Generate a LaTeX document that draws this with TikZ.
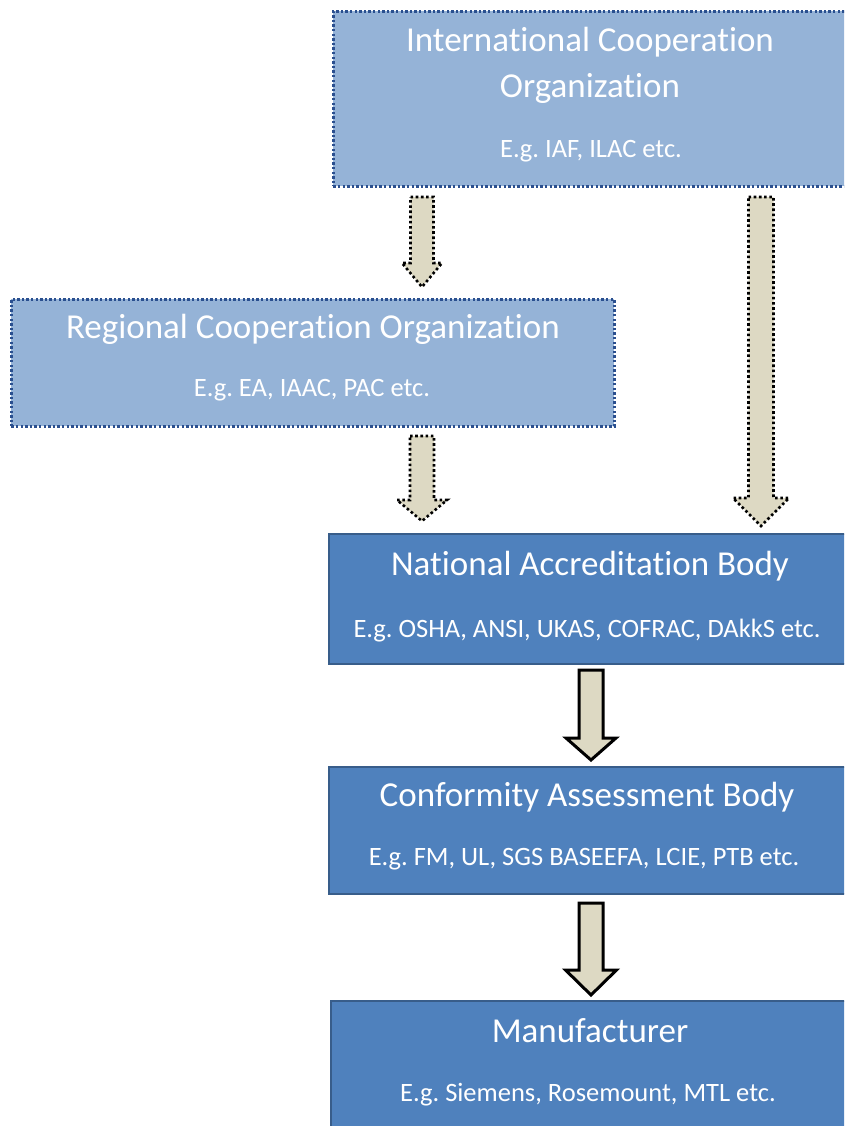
\documentclass[tikz,border=0pt]{standalone}
\usepackage{fontspec}
\setmainfont{Carlito}[Ligatures={NoCommon}]
\frenchspacing
\definecolor{lightblue}{HTML}{95B3D7}
\definecolor{darkblue}{HTML}{4F81BD}
\definecolor{edgeblue}{HTML}{385D8A}
\definecolor{dotblue}{HTML}{2A4F8F}
\definecolor{khaki}{HTML}{DDD9C3}
\tikzset{
  lightbox/.style={draw=dotblue, fill=lightblue, line width=2.6pt,
    dash pattern=on 2.4pt off 2.2pt, anchor=north west, inner sep=0pt},
  darkbox/.style={draw=edgeblue, fill=darkblue, line width=2pt,
    anchor=north west, inner sep=0pt},
  title/.style={text=white, font=\fontsize{35}{40}\selectfont, inner sep=0pt},
  sub/.style={text=white, font=\fontsize{26.5}{30}\selectfont, inner sep=0pt},
  dotarrow/.style={draw=black, fill=khaki, line width=2.6pt,
    dash pattern=on 2.6pt off 2.6pt},
  solidarrow/.style={draw=black, fill=khaki, line width=3pt, line join=miter}
}
% style, x, top, tip, half shaft, half head, head length
\newcommand{\blockarrow}[7]{%
  \draw[#1] (#2-#5,#3) -- (#2+#5,#3) -- (#2+#5,#4-#7) -- (#2+#6,#4-#7)
    -- (#2,#4) -- (#2-#6,#4-#7) -- (#2-#5,#4-#7) -- cycle;}
\begin{document}
\begin{tikzpicture}[x=1pt,y=-1pt]
  \useasboundingbox (0,0) rectangle (844,1126);
  \clip (0,0) rectangle (844,1126);

  \node[lightbox, minimum width=520, minimum height=175] (intl) at (332,10) {};
  \node[lightbox, minimum width=603, minimum height=127] (regional) at (10,298) {};
  \node[darkbox, minimum width=525, minimum height=130] (natl) at (328,533) {};
  \node[darkbox, minimum width=525, minimum height=127] (conf) at (328,766) {};
  \node[darkbox, minimum width=525, minimum height=140] (manuf) at (330,1000) {};

  \node[title] (intl1) at (590,42) {International Cooperation};
  \node[title] (intl2) at (590,88) {Organization};
  \node[sub] (intleg) at (591,151) {E.g. IAF, ILAC etc.};
  \node[title] (reg1) at (313,329) {Regional Cooperation Organization};
  \node[sub] (regeg) at (312,390) {E.g. EA, IAAC, PAC etc.};
  \node[title] (natl1) at (590,566) {National Accreditation Body};
  \node[sub] (natleg) at (587,631) {E.g. OSHA, ANSI, UKAS, COFRAC, DAkkS etc.};
  \node[title] (conf1) at (587,797) {Conformity Assessment Body};
  \node[sub] (confeg) at (584,859) {E.g. FM, UL, SGS BASEEFA, LCIE, PTB etc.};
  \node[title] (manuf1) at (590,1031) {Manufacturer};
  \node[sub] (manufeg) at (588,1095) {E.g. Siemens, Rosemount, MTL etc.};

  \blockarrow{dotarrow}{422}{197}{287}{11.5}{20}{24}
  \blockarrow{dotarrow}{422}{436}{521}{12}{25}{21}
  \blockarrow{dotarrow}{761}{197}{526}{12.5}{28}{28}
  \blockarrow{solidarrow}{591}{670}{760}{12}{25}{22}
  \blockarrow{solidarrow}{591}{903}{995}{12}{25.5}{25}
\end{tikzpicture}
\end{document}
